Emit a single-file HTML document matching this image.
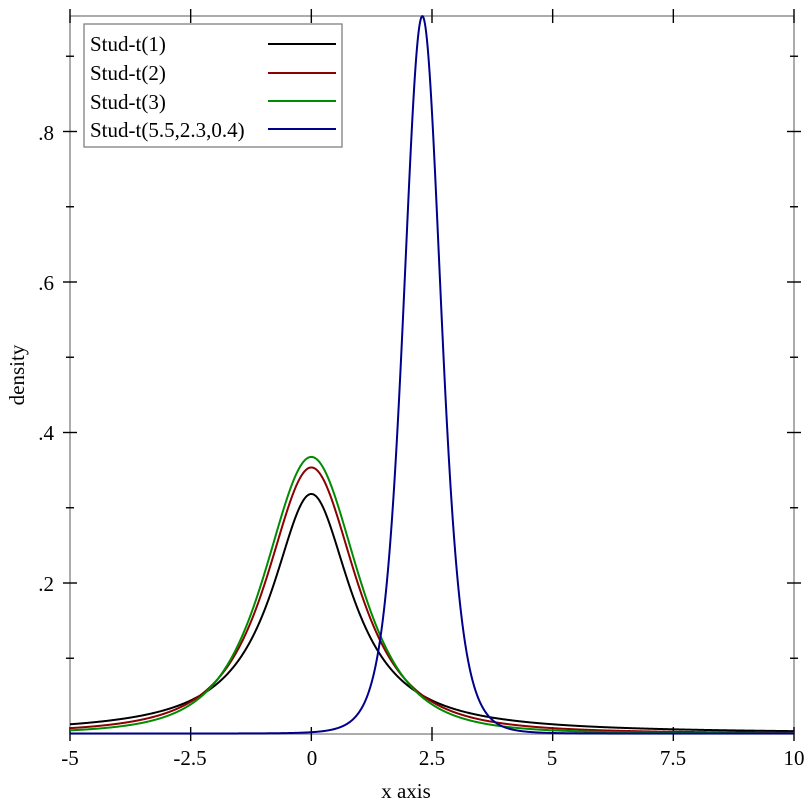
<!DOCTYPE html>
<html><head><meta charset="utf-8"><style>
html,body{margin:0;padding:0;background:#fff}
svg{display:block}
text{font-family:"Liberation Serif",serif;font-size:21px;fill:#000}
</style></head><body>
<svg id="s" width="812" height="812" viewBox="0 0 812 812" xmlns="http://www.w3.org/2000/svg">
<rect x="70" y="16" width="724" height="718" fill="none" stroke="#808080" stroke-width="1.3"/>
<g id="ticks" stroke="#000" stroke-width="1.4"></g>
<g id="curves" fill="none" stroke-width="2"></g>
<g text-anchor="end">
<text x="54" y="591">.2</text><text x="54" y="440">.4</text><text x="54" y="290">.6</text><text x="54" y="140">.8</text>
</g>
<g text-anchor="middle">
<text x="70" y="765">-5</text><text x="190" y="765">-2.5</text><text x="312" y="765">0</text><text x="432" y="765">2.5</text><text x="552" y="765">5</text><text x="673" y="765">7.5</text><text x="794" y="765">10</text>
<text x="406" y="798">x axis</text>
<text transform="translate(24,375) rotate(-90)">density</text>
</g>
<rect x="84" y="24" width="258" height="123" fill="#fff" stroke="#808080" stroke-width="1.3"/>
<text x="90" y="51">Stud-t(1)</text>
<text x="90" y="80">Stud-t(2)</text>
<text x="90" y="109">Stud-t(3)</text>
<text x="90" y="137">Stud-t(5.5,2.3,0.4)</text>
<line x1="268" y1="44" x2="336" y2="44" stroke="#000" stroke-width="2"/>
<line x1="268" y1="73" x2="336" y2="73" stroke="#8b0000" stroke-width="2"/>
<line x1="268" y1="101" x2="336" y2="101" stroke="#008b00" stroke-width="2"/>
<line x1="268" y1="129" x2="336" y2="129" stroke="#00008b" stroke-width="2"/>
</svg>
<script>
function lg(z){var g=7,c=[0.99999999999980993,676.5203681218851,-1259.1392167224028,771.32342877765313,-176.61502916214059,12.507343278686905,-0.13857109526572012,9.9843695780195716e-6,1.5056327351493116e-7];
if(z<0.5)return Math.log(Math.PI/Math.sin(Math.PI*z))-lg(1-z);z-=1;var x=c[0];for(var i=1;i<g+2;i++)x+=c[i]/(z+i);var t=z+g+0.5;return 0.5*Math.log(2*Math.PI)+(z+0.5)*Math.log(t)-t+Math.log(x);}
function pdf(x,n,m,s){var t=(x-m)/s;return Math.exp(lg((n+1)/2)-lg(n/2))/Math.sqrt(n*Math.PI)*Math.pow(1+t*t/n,-(n+1)/2)/s;}
var X=function(x){return 70+(x+5)*724/15},Y=function(y){return 733.5-y*752.5};
var ns="http://www.w3.org/2000/svg";
var cs=[[1,0,1,"#000"],[2,0,1,"#8b0000"],[3,0,1,"#008b00"],[5.5,2.3,0.4,"#00008b"]];
var g=document.getElementById("curves");
cs.forEach(function(c){var d="";for(var i=0;i<=1500;i++){var x=-5+15*i/1500;d+=(i?"L":"M")+X(x).toFixed(2)+","+Y(pdf(x,c[0],c[1],c[2])).toFixed(2);}
var p=document.createElementNS(ns,"path");p.setAttribute("d",d);p.setAttribute("stroke",c[3]);g.appendChild(p);});
var t=document.getElementById("ticks"),h="";
[-5,-2.5,0,2.5,5,7.5,10].forEach(function(v){var x=X(v);h+='<line x1="'+x+'" y1="9" x2="'+x+'" y2="23"/><line x1="'+x+'" y1="727" x2="'+x+'" y2="741"/>';});
for(var k=1;k<=9;k++){var y=Y(k/10),L=(k%2==0)?7:4;h+='<line x1="'+(70-L)+'" y1="'+y+'" x2="'+(70+L)+'" y2="'+y+'"/><line x1="'+(794-L)+'" y1="'+y+'" x2="'+(794+L)+'" y2="'+y+'"/>';}
t.innerHTML=h;
</script>
</body></html>
